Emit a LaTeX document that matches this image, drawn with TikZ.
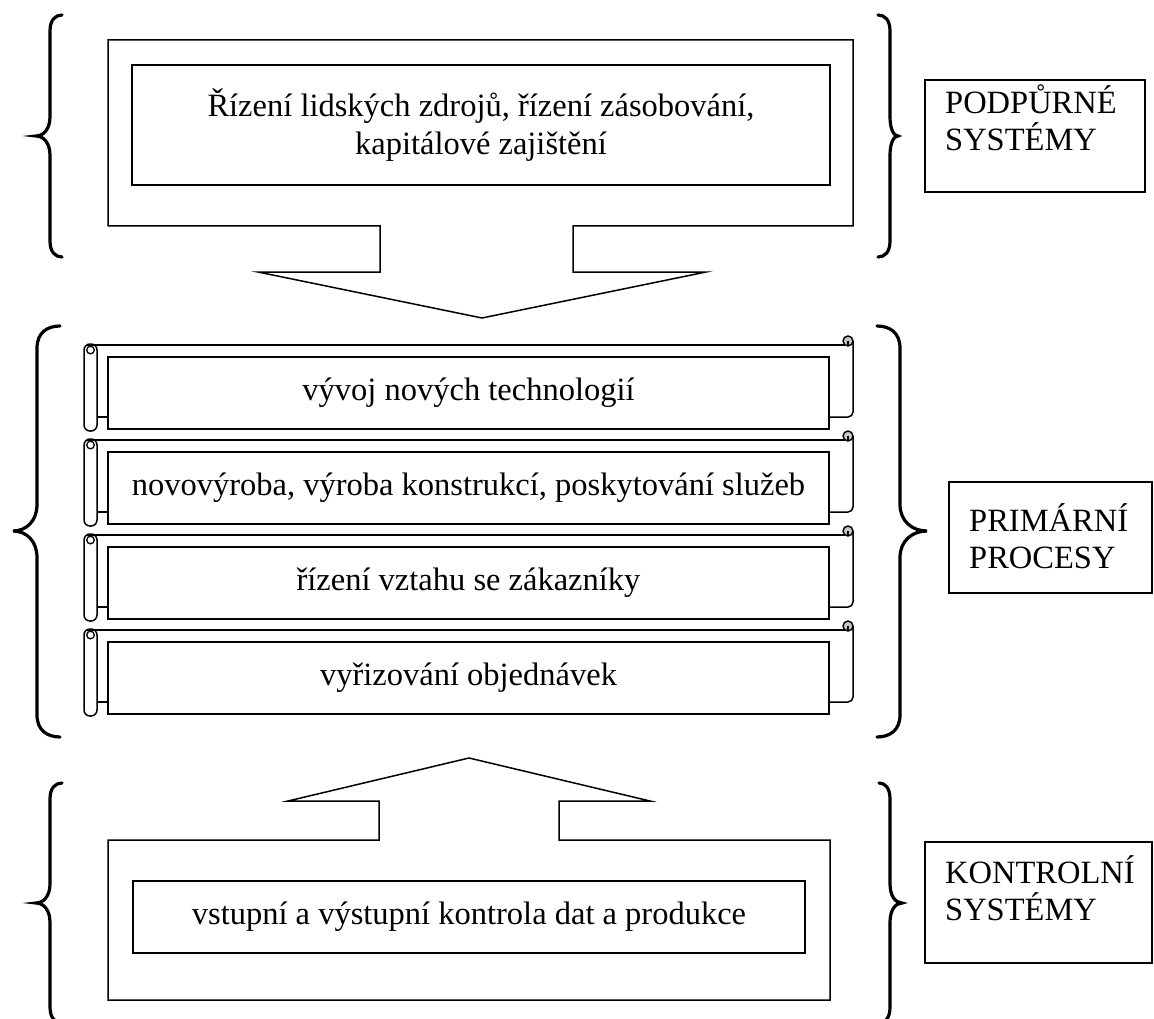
\documentclass[tikz,border=0pt]{standalone}
\usepackage{fontspec}
\setmainfont{Liberation Serif}
\tikzset{
  frame/.style={draw=black, line width=1.5pt, line join=miter},
  bracestyle/.style={draw=black, line width=3.2pt, line cap=round},
  txt/.style={font=\fontsize{32.5}{37}\selectfont, inner sep=0pt},
  boxnode/.style={draw=black, line width=1.5pt, inner sep=0pt, align=center, font=\fontsize{32.5}{38}\selectfont},
  labelbox/.style={draw=black, line width=1.5pt, inner sep=0pt},
}
% brace: #1 hook x, #2 vertical x, #3 tip x, #4 top y, #5 tip y, #6 bottom y, #7 curve size
\newcommand\mybrace[7]{%
  \draw[bracestyle] (#1,#4) .. controls ({#2+0.45*(#1-#2)},#4) and (#2,{#4+0.3*#7}) .. (#2,{#4+#7})
    -- (#2,{#5-1.2*#7}) .. controls (#2,{#5-0.45*#7}) and ({#2+0.45*(#3-#2)},#5) .. (#3,#5)
    .. controls ({#2+0.45*(#3-#2)},#5) and (#2,{#5+0.45*#7}) .. (#2,{#5+1.2*#7})
    -- (#2,{#6-#7}) .. controls (#2,{#6-0.3*#7}) and ({#2+0.45*(#1-#2)},#6) .. (#1,#6);}
% scroll: #1 top y, #2 name, #3 text
\newcommand\scrollpart[3]{%
  \draw[frame, rounded corners=6pt] (84,{#1-1}) rectangle (97,{#1+86});
  \draw[frame] (87,#1) -- (845,#1);
  \draw[frame, rounded corners=5pt] (853,{#1-4}) -- (853,{#1+72}) -- (829,{#1+72});
  \draw[frame, line width=1.4pt, fill=gray!45] (848,{#1-4}) circle[radius=5];
  \draw[frame, line width=1.2pt] (848,{#1-4}) -- (848,#1);
  \draw[frame, line width=1.3pt] (90.5,{#1+5}) circle[radius=3.8];
  \draw[frame] (97,{#1+72}) -- (108,{#1+72});
  \node[boxnode, minimum width=721pt, minimum height=72pt] (#2) at (468.5,{#1+48}) {#3};}
\begin{document}
\begin{tikzpicture}[x=1pt,y=-1pt]
\useasboundingbox (0,0) rectangle (1154,1019);
\clip (0,0) rectangle (1154,1019);

% ---------- top section ----------
\draw[frame] (108,40) -- (853,40) -- (853,226) -- (573,226) -- (573,272) -- (706,272)
  -- (482,318) -- (258,272) -- (380,272) -- (380,226) -- (108,226) -- cycle;
\node[boxnode, minimum width=698pt, minimum height=120pt] (hr) at (481,125)
  {Řízení lidských zdrojů, řízení zásobování,\\kapitálové zajištění};
\mybrace{62}{50}{36}{15}{136}{257}{16}
\mybrace{878}{890}{898}{15}{136}{257}{16}
\node[labelbox, minimum width=220pt, minimum height=112pt] (pbox) at (1035,136) {};
\node[txt, anchor=base west] (p1) at (945,114) {PODPŮRNÉ};
\node[txt, anchor=base west] (p2) at (945,151) {SYSTÉMY};

% ---------- middle section ----------
\mybrace{60}{37}{13}{326}{531}{737}{22}
\mybrace{877}{900}{927}{326}{531}{737}{22}
\scrollpart{345}{s1}{vývoj nových technologií}
\scrollpart{440}{s2}{novovýroba, výroba konstrukcí, poskytování služeb}
\scrollpart{535}{s3}{řízení vztahu se zákazníky}
\scrollpart{630}{s4}{vyřizování objednávek}
\node[labelbox, minimum width=203pt, minimum height=111pt] (rbox) at (1050.5,537.5) {};
\node[txt, anchor=base west] (r1) at (969,531) {PRIMÁRNÍ};
\node[txt, anchor=base west] (r2) at (969,568) {PROCESY};

% ---------- bottom section ----------
\draw[frame] (108,1000) -- (830,1000) -- (830,840) -- (559,840) -- (559,801) -- (650,801)
  -- (469,758) -- (288,801) -- (379,801) -- (379,840) -- (108,840) -- cycle;
\node[boxnode, minimum width=672pt, minimum height=72pt] (kc) at (469,917)
  {vstupní a výstupní kontrola dat a produkce};
\mybrace{62}{50}{36}{783}{903}{1023}{16}
\mybrace{879}{890}{902}{783}{903}{1023}{16}
\node[labelbox, minimum width=227pt, minimum height=121pt] (kbox) at (1038.5,902.5) {};
\node[txt, anchor=base west] (k1) at (945,883) {KONTROLNÍ};
\node[txt, anchor=base west] (k2) at (945,920) {SYSTÉMY};
\end{tikzpicture}
\end{document}
